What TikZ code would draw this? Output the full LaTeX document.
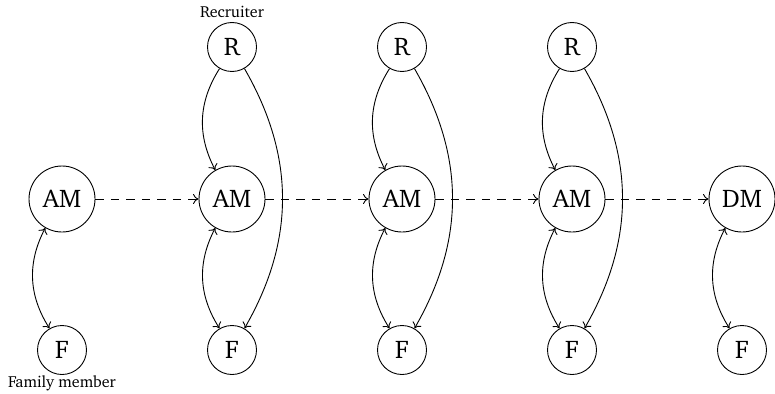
\documentclass[tikz,border=0pt]{standalone}
\usepackage[T1]{fontenc}
\usepackage{charter}
\usetikzlibrary{arrows.meta}
\begin{document}
\begin{tikzpicture}[x=1pt,y=-1pt,
  >={Computer Modern Rightarrow[length=5.5pt,width=10pt]},
  every path/.style={line width=0.9pt},
  nd/.style={circle,draw,line width=0.9pt,inner sep=0pt,font=\fontsize{25.5}{30}\selectfont},
  sm/.style={nd,minimum size=49pt},
  bg/.style={nd,minimum size=66pt},
  lbl/.style={font=\fontsize{16}{19}\selectfont,inner sep=0pt},
  dsh/.style={->,dash pattern=on 8.5pt off 7pt},
  ]
\useasboundingbox (0,0) rectangle (775,393);
% column 1
\node[bg] (AM1) at (62,199) {AM};
\node[sm] (F1) at (62,350) {F};
\node[lbl] (fm) at (62,383) {Family member};
% columns 2-4
\foreach \i/\x in {2/232,3/402,4/572}{
  \node[sm] (R\i) at (\x,47) {R};
  \node[bg] (AM\i) at (\x,199) {AM};
  \node[sm] (F\i) at (\x,350) {F};
}
\node[bg] (DM) at (742,199) {DM};
\node[sm] (F5) at (742,350) {F};
\node[lbl] (rec) at (232,12) {Recruiter};
% edges
\draw[<->] (AM1) to[bend right=30] (F1);
\foreach \i in {2,3,4}{
  \draw[->] (R\i) to[bend right=30] (AM\i);
  \draw[->] (R\i) to[bend left=30] (F\i);
  \draw[<->] (AM\i) to[bend right=30] (F\i);
}
\draw[<->] (DM) to[bend right=30] (F5);
\draw[dsh] (AM1) -- (AM2);
\draw[dsh] (AM2) -- (AM3);
\draw[dsh] (AM3) -- (AM4);
\draw[dsh] (AM4) -- (DM);
\end{tikzpicture}
\end{document}
